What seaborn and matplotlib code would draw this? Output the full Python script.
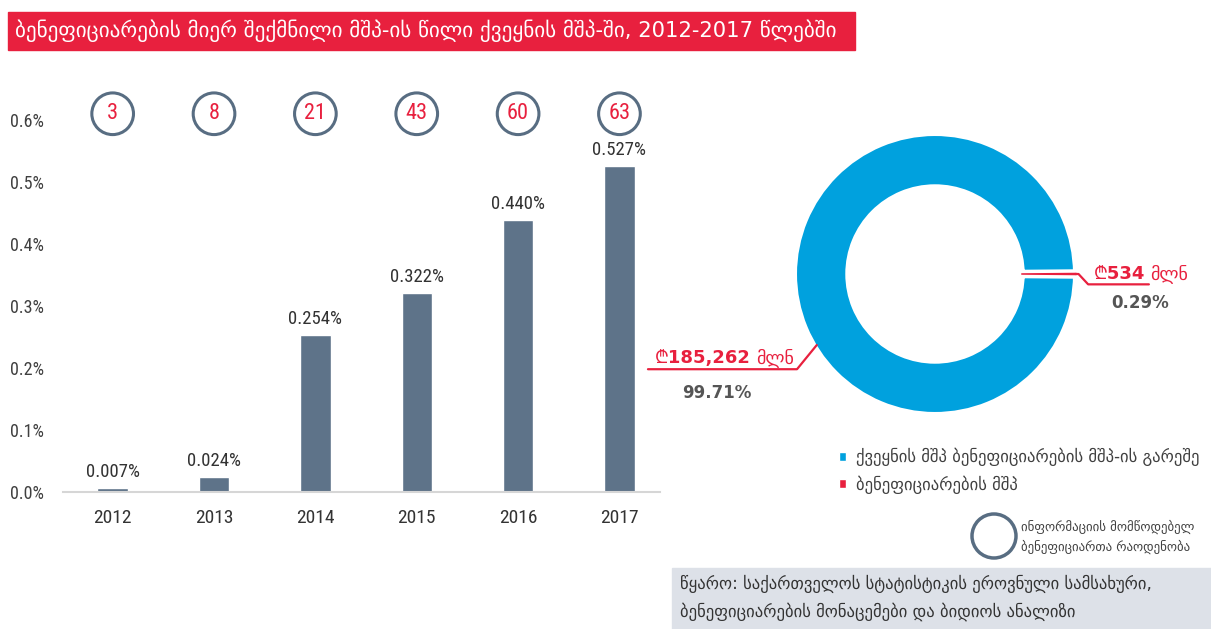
import numpy as np
import pandas as pd
import matplotlib.pyplot as plt
import seaborn as sns
from matplotlib import font_manager
from matplotlib.patches import Rectangle, Patch, Ellipse

# --- data ---
years = ['2012', '2013', '2014', '2015', '2016', '2017']
gdp_share = [0.007, 0.024, 0.254, 0.322, 0.440, 0.527]   # % of national GDP
beneficiaries = [3, 8, 21, 43, 60, 63]
y_ticks = [0.0, 0.1, 0.2, 0.3, 0.4, 0.5, 0.6]

pie_labels = ['ქვეყნის მშპ ბენეფიციარების მშპ-ის გარეშე', 'ბენეფიციარების მშპ']
pie_values = [185262, 534]          # მლნ ლარი
pie_amounts = ['₾185,262', '₾534']
pie_shares = ['99.71%', '0.29%']
unit = 'მლნ'

title = 'ბენეფიციარების მიერ შექმნილი მშპ-ის წილი ქვეყნის მშპ-ში, 2012-2017 წლებში'
circle_note = 'ინფორმაციის მომწოდებელ\nბენეფიციართა რაოდენობა'
source = ('წყარო: საქართველოს სტატისტიკის ეროვნული სამსახური,\n'
          'ბენეფიციარების მონაცემები და ბიდიოს ანალიზი')

# colours
red = '#E8203E'
blue = '#00A1DE'
slate = '#5E7389'
ring = '#586D82'
txt = '#404040'

sns.set_theme(style='white')
plt.rcParams['font.family'] = ['DejaVu Sans', 'Noto Sans', 'Roboto']

names = {f.name for f in font_manager.fontManager.ttflist}
num_font = 'DejaVu Sans'
for cand in ['Roboto Condensed', 'Liberation Sans Narrow', 'Open Sans Condensed']:
    if cand in names:
        num_font = cand
        break
num_family = [num_font, 'DejaVu Sans']

W, H = 1211, 629
fig = plt.figure(figsize=(W / 100, H / 100), dpi=100)


def box(left, top, right, bottom):
    # pixel box (from top-left) -> figure fraction rect
    return [left / W, 1 - bottom / H, (right - left) / W, (bottom - top) / H]


# === bar chart ===
ax = fig.add_axes(box(63, 113, 660, 492))
df = pd.DataFrame({'year': years, 'share': gdp_share})
sns.barplot(data=df, x='year', y='share', color=slate, width=0.3,
            saturation=1, ax=ax)
ax.set_xlim(-0.49, 5.4)
ax.set_ylim(0, 0.612)
ax.set_yticks(y_ticks)
ax.set_yticklabels([f'{v:.1f}%' for v in y_ticks], family=num_family,
                   fontsize=13, color=txt)
ax.set_xticks(range(len(years)))
ax.set_xticklabels(years, family=num_family, fontsize=14, color='#333333')
ax.tick_params(axis='x', length=0, pad=12)
ax.tick_params(axis='y', length=0, pad=14)
ax.set_xlabel('')
ax.set_ylabel('')
for s in ['top', 'right', 'left']:
    ax.spines[s].set_visible(False)
ax.spines['bottom'].set_color('#d6d6d6')
ax.spines['bottom'].set_linewidth(1.5)
ax.bar_label(ax.containers[0], labels=[f'{v:.3f}%' for v in gdp_share],
             padding=5, family=num_family, fontsize=13.5, color='#333333')

# beneficiary count circles
xpos = np.arange(len(years))
ax.scatter(xpos, [0.998] * len(xpos), transform=ax.get_xaxis_transform(),
           s=900, facecolors='none', edgecolors=ring, linewidths=2.2,
           clip_on=False, zorder=5)
for x, n in zip(xpos, beneficiaries):
    ax.text(x, 0.998, str(n), transform=ax.get_xaxis_transform(),
            ha='center', va='center', color=red, fontsize=16,
            family=num_family, clip_on=False)

# === donut ===
pax = fig.add_axes(box(785, 124, 1085, 424))
wedges, _ = pax.pie(pie_values, colors=[blue, red], startangle=0.52,
                    counterclock=True, radius=1.025,
                    wedgeprops=dict(width=0.40, edgecolor='white', linewidth=5))
wedges[1].set_edgecolor('none')
wedges[1].set_linewidth(0)
wedges[1].set_zorder(3)
pax.set_xlim(-1.087, 1.087)
pax.set_ylim(-1.087, 1.087)

# leader lines
pax.plot([1.02, 1.04, 1.11, 1.55], [0.0, 0.0, -0.075, -0.075], color=red,
         lw=1.6, clip_on=False)
pax.plot([-0.857, -1.0, -2.08], [-0.515, -0.69, -0.69], color=red,
         lw=1.6, clip_on=False)

t1 = pax.text(1.15, -0.065, pie_amounts[1], color=red, fontsize=13,
              fontweight='bold', ha='left', va='bottom', clip_on=False)
pax.annotate(unit, xy=(1, 0), xycoords=t1, xytext=(4, 0),
             textcoords='offset points', color=red, fontsize=13,
             ha='left', va='bottom')
pax.text(1.49, -0.21, pie_shares[1], color='#555555', fontsize=12,
         fontweight='bold', ha='center', va='center')

t2 = pax.text(-2.03, -0.675, pie_amounts[0], color=red, fontsize=13,
              fontweight='bold', ha='left', va='bottom', clip_on=False)
pax.annotate(unit, xy=(1, 0), xycoords=t2, xytext=(4, 0),
             textcoords='offset points', color=red, fontsize=13,
             ha='left', va='bottom')
pax.text(-1.58, -0.86, pie_shares[0], color='#555555', fontsize=12,
         fontweight='bold', ha='center', va='center')

handles = [Patch(facecolor=blue), Patch(facecolor=red)]
fig.legend(handles, pie_labels, loc='upper left',
           bbox_to_anchor=(824 / W, 1 - 433 / H), frameon=False,
           handlelength=0.45, handleheight=0.45, handletextpad=0.6,
           labelspacing=0.55, fontsize=12, labelcolor=txt)

# === decorations in pixel space ===
deco = fig.add_axes([0, 0, 1, 1], zorder=-1)
deco.set_xlim(0, W)
deco.set_ylim(H, 0)
deco.axis('off')

deco.add_patch(Rectangle((8, 12), 847, 38, color=red))
fig.text(15 / W, 1 - 31 / H, title, color='white', fontsize=15.2,
         ha='left', va='center')

deco.add_patch(Rectangle((672, 568), W - 672, H - 568, color='#DDE1E8'))
fig.text(680 / W, 1 - 598 / H, source, color='#333333', fontsize=12,
         ha='left', va='center', linespacing=1.6)

deco.add_patch(Ellipse((994, 536), 44, 44, facecolor='none',
                       edgecolor=ring, linewidth=2.5))
fig.text(1021 / W, 1 - 537 / H, circle_note, color=txt, fontsize=9.3,
         ha='left', va='center', linespacing=1.5)

fig.savefig('out.png', dpi=100)
